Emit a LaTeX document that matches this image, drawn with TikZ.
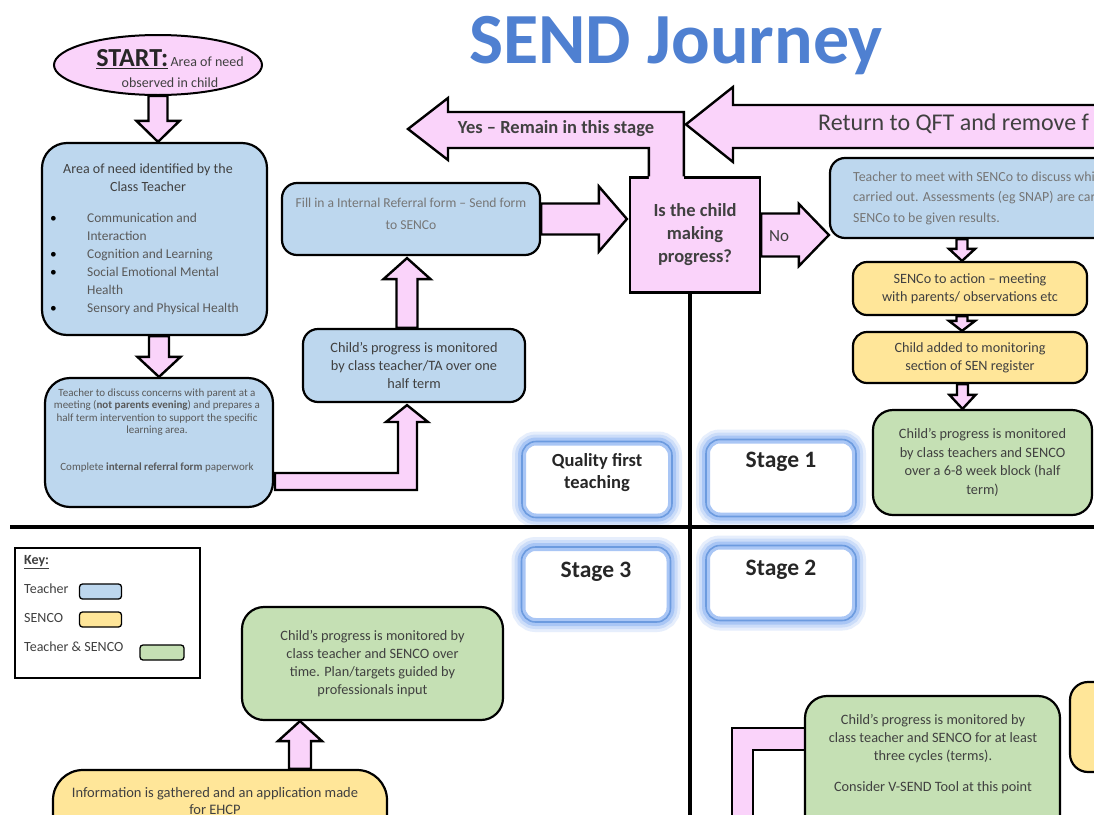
\documentclass[tikz,border=0pt]{standalone}
\usepackage{fontspec}
\setmainfont{Carlito}
\usetikzlibrary{shapes.geometric,calc}
\definecolor{pinkf}{HTML}{FAD3FA}
\definecolor{tblue}{HTML}{BDD7EE}
\definecolor{syel}{HTML}{FFE699}
\definecolor{ggreen}{HTML}{C5E0B4}
\definecolor{txt}{HTML}{404040}
\definecolor{txtl}{HTML}{595959}
\definecolor{txtf}{HTML}{767676}
\definecolor{titleblue}{HTML}{4F80D1}
\definecolor{glowc}{HTML}{8DB3F2}
\definecolor{glowb}{HTML}{6C9BDF}
\newcommand\fsz[2]{\fontsize{#1}{#2}\selectfont}
\newcommand\myvarrow[5]{%
  \draw[blk] let \p1=(#1), \p2=(#2), \p3=(0,#5) in
    (\x2-#3pt,\y1) -- (\x2-#3pt,\y2+\y3) -- (\x2-#4pt,\y2+\y3) -- (\x2,\y2)
    -- (\x2+#4pt,\y2+\y3) -- (\x2+#3pt,\y2+\y3) -- (\x2+#3pt,\y1) -- cycle;}
\newcommand\myharrow[5]{%
  \draw[blk] let \p1=(#1), \p2=(#2), \p3=(#5,0) in
    (\x1,\y2+#3pt) -- (\x2+\x3,\y2+#3pt) -- (\x2+\x3,\y2+#4pt) -- (\x2,\y2)
    -- (\x2+\x3,\y2-#4pt) -- (\x2+\x3,\y2-#3pt) -- (\x1,\y2-#3pt) -- cycle;}
\begin{document}
\begin{tikzpicture}[x=1pt,y=-1pt,
  box/.style={draw=black, line width=2.2pt, rounded corners=#1, inner sep=0pt, align=center, text=txt},
  box/.default=15pt,
  tbox/.style={box=#1, fill=tblue}, tbox/.default=15pt,
  sbox/.style={box=#1, fill=syel}, sbox/.default=14pt,
  gbox/.style={box=#1, fill=ggreen}, gbox/.default=22pt,
  blk/.style={draw=black, line width=2.4pt, fill=pinkf, line join=miter},
  lbl/.style={inner sep=0pt, align=center, text=txt},
  swatch/.style={draw=black, line width=1.3pt, rounded corners=3pt, inner sep=0pt, minimum height=15pt},
  glow/.style={fill=white, draw=glowc!75, line width=8pt, rounded corners=14pt, inner sep=0pt,
    preaction={draw=glowc!22, line width=20pt},
    preaction={draw=glowc!45, line width=14pt},
    postaction={draw=glowb, line width=1.6pt}},
  stagetxt/.style={lbl, text=black!85, font=\fsz{23.5}{26}\bfseries}
]
\useasboundingbox (0,0) rectangle (1094,814);
\clip (0,0) rectangle (1094,814);
\fill[white] (0,0) rectangle (1094,814);

% title
\node[anchor=base, font=\fsz{72}{80}\bfseries, text=titleblue] (title) at (676,63) {SEND Journey};

% start
\node[ellipse, draw=black, line width=2pt, fill=pinkf, minimum width=208pt, minimum height=60pt,
  inner sep=0pt] (start) at (158,65) {};
\node[lbl, font=\fsz{14}{21}] (startt) at (170,69)
  {{\fsz{26}{26}\bfseries\color{black!85}\underline{START:}}\,Area of need\\observed in child};

% teacher column
\node[tbox=25pt, minimum width=225pt, minimum height=192pt] (area) at (154.5,239) {};
\node[lbl, font=\fsz{14}{18}] (areat) at (148,178) {Area of need identified by the\\Class Teacher};
\node[lbl, anchor=north west, align=left, font=\fsz{13.4}{18}, text=txtl] (areal) at (87,210)
  {\strut Communication and\\Interaction\\Cognition and Learning\\Social Emotional Mental\\Health\\Sensory and Physical Health};
\node[lbl, anchor=north west, align=left, font=\fsz{13.4}{18}, text=black] (areab) at (50,210)
  {\strut\textbullet\\\mbox{}\\\textbullet\\\textbullet\\\mbox{}\\\textbullet};

\node[tbox=25pt, minimum width=228pt, minimum height=129pt] (disc) at (159,442.5) {};
\node[lbl, font=\fsz{11}{12.3}, text=txtl] (disct) at (157,430.5)
  {Teacher to discuss concerns with parent at a\\meeting (\textbf{not parents evening}) and prepares a\\half term intervention to support the specific\\learning area.\\[24.6pt]Complete \textbf{internal referral form} paperwork};

\node[tbox, minimum width=222pt, minimum height=73pt, font=\fsz{14.3}{18}] (ta) at (414,365.5)
  {Child’s progress is monitored\\by class teacher/TA over one\\half term};
\node[tbox, minimum width=258pt, minimum height=72pt] (fillin) at (411,219) {};
\node[lbl, font=\fsz{13.6}{22}, text=txtf] (fillt) at (411,214)
  {Fill in a Internal Referral form – Send form\\to SENCo};

% decision
\node[draw=black, line width=2.2pt, fill=pinkf, minimum width=130pt, minimum height=115pt, inner sep=0pt,
  align=center, text=txt, font=\fsz{18.5}{23}\bfseries] (dec) at (695,235) {Is the child\\making\\progress?};

% right column
\node[tbox, minimum width=310pt, minimum height=80pt] (meet) at (985,198) {};
\node[lbl, anchor=west, align=left, font=\fsz{13.9}{20.5}, text=txtf] (meett) at (853,198)
  {Teacher to meet with SENCo to discuss whi\\carried out. Assessments (eg SNAP) are carr\\SENCo to be given results.};
\node[sbox, minimum width=234pt, minimum height=53pt, font=\fsz{14.2}{18}] (act) at (970,288.5)
  {SENCo to action – meeting\\with parents/ observations etc};
\node[sbox, minimum width=234pt, minimum height=51pt, font=\fsz{14.2}{18}] (reg) at (970,357.5)
  {Child added to monitoring\\section of SEN register};
\node[gbox=20pt, minimum width=219pt, minimum height=105pt, font=\fsz{14.3}{18.5}] (blk6) at (982.5,462.5)
  {Child’s progress is monitored\\by class teachers and SENCO\\over a 6-8 week block (half\\term)};

% stage boxes
\node[glow, minimum width=150pt, minimum height=76pt] (qft) at (597,479.5) {};
\node[lbl, text=black!85, font=\fsz{18.5}{22}\bfseries] (qftt) at (597,473) {Quality first\\teaching};
\node[glow, minimum width=150pt, minimum height=77pt] (s1) at (781,478) {};
\node[stagetxt] (s1t) at (781,462) {Stage 1};
\node[glow, minimum width=149pt, minimum height=75pt] (s3) at (596,584.5) {};
\node[stagetxt] (s3t) at (596,572) {Stage 3};
\node[glow, minimum width=150pt, minimum height=75pt] (s2) at (781,583) {};
\node[stagetxt] (s2t) at (781,570) {Stage 2};

% key
\node[draw=black, line width=1.2pt, minimum width=185pt, minimum height=130pt, inner sep=0pt] (key) at (107.5,613) {};
\node[lbl, anchor=west, font=\fsz{14}{16}\bfseries] (keyt) at (24,562) {\underline{Key:}};
\node[lbl, anchor=west, font=\fsz{14}{16}] (kt1) at (24,589) {Teacher};
\node[swatch, fill=tblue, minimum width=42pt] (ks1) at (100.5,591.5) {};
\node[lbl, anchor=west, font=\fsz{14}{16}] (kt2) at (24,618) {SENCO};
\node[swatch, fill=syel, minimum width=42pt] (ks2) at (100.5,619.5) {};
\node[lbl, anchor=west, font=\fsz{14}{16}] (kt3) at (24,647) {Teacher \& SENCO};
\node[swatch, fill=ggreen, minimum width=44pt] (ks3) at (162,652.5) {};

% stage 3 area
\node[gbox, minimum width=261pt, minimum height=113pt, font=\fsz{14.3}{18}] (gmon) at (372.5,663.5)
  {Child’s progress is monitored by\\class teacher and SENCO over\\time. Plan/targets guided by\\professionals input};
\node[sbox=30pt, minimum width=334pt, minimum height=80pt] (info) at (220,810) {};
\node[lbl, font=\fsz{14.5}{17}] (infot) at (215,801) {Information is gathered and an application made\\for EHCP};

% stage 2 area
\draw[blk] (806,728) -- (732,728) -- (732,830) -- (753,830) -- (753,750) -- (806,750) -- cycle;
\node[gbox, minimum width=255pt, minimum height=148pt] (three) at (932.5,770) {};
\node[lbl, anchor=north, font=\fsz{14.3}{18}] (threet) at (933,714)
  {Child’s progress is monitored by\\class teacher and SENCO for at least\\three cycles (terms).\\[13pt]Consider V-SEND Tool at this point};
\node[sbox=18pt, minimum width=90pt, minimum height=90pt] (yright) at (1115,727) {};

% block arrows
\myvarrow{start.south}{start.south |- area.north}{9.5}{21.5}{-21}
\myvarrow{area.south}{disc.north}{10}{21.5}{-20}
\coordinate (e1tip) at ($(ta.south)+(-7,2)$);
\draw[blk] (275,473) -- (398,473) -- (398,422) -- (386,422) -- (e1tip) -- (428,422) -- (417,422) -- (417,490) -- (275,490) -- cycle;
\myvarrow{ta.north}{$(fillin.south)+(-4,2)$}{10.5}{23.5}{21}
\myharrow{fillin.east}{$(dec.west |- fillin.east)+(-2,0)$}{15.5}{32.5}{-28}
\myharrow{dec.east}{meet.west |- dec.east}{21.5}{31}{-30}
\node[lbl, font=\fsz{17}{18}] (no) at (779,236) {No};
\myvarrow{meet.south}{$(act.north)+(-8,0)$}{5.5}{13}{-12}
\myvarrow{act.south}{$(reg.north)+(-8,0)$}{5.5}{13}{-10}
\myvarrow{reg.south}{$(blk6.north)+(-20,0)$}{5.5}{13}{-14}
\myvarrow{info.north}{$(gmon.south)+(-72.5,0)$}{11}{22}{20}

% yes arrow
\coordinate (ya) at ($(dec.north west)+(20,0)$);
\coordinate (yb) at ($(dec.north west)+(55,0)$);
\fill[pinkf] ($(ya)+(0,2.5)$) -- (ya |- 0,148) -- (448,148) -- (448,160) -- (408,129) -- (448,98) -- (448,112) -- (yb |- 0,112) -- ($(yb)+(0,2.5)$) -- cycle;
\draw[blk, fill=none] (ya) -- (ya |- 0,148) -- (448,148) -- (448,160) -- (408,129) -- (448,98) -- (448,112) -- (yb |- 0,112) -- (yb);
\node[lbl, font=\fsz{18.5}{20}\bfseries] (yes) at (556,129) {Yes – Remain in this stage};

% return arrow
\coordinate (rtip) at ($(yb)+(2,-52)$);
\draw[blk] (1120,105) -- (733,105) -- (733,87) -- (rtip) -- (733,162) -- (733,148) -- (1120,148) -- cycle;
\node[lbl, anchor=west, font=\fsz{24}{26}] (ret) at (818,124) {Return to QFT and remove f};

% quadrant lines
\coordinate (hl) at (10,527);
\coordinate (hr) at (1110,527);
\coordinate (vb) at (690,830);
\draw[line width=4.5pt] (hl) -- (hr);
\draw[line width=4.5pt] (vb |- dec.south) -- (vb);
\end{tikzpicture}
\end{document}
